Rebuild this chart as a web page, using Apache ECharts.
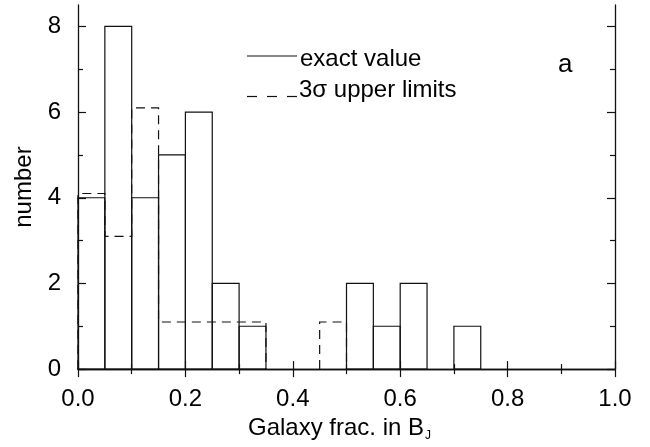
<!DOCTYPE html>
<html>
<head>
<meta charset="utf-8">
<script src="https://cdn.jsdelivr.net/npm/echarts@6/dist/echarts.min.js"></script>
<style>
  html, body { margin: 0; padding: 0; background: #fff; }
  #chart { width: 650px; height: 447px; }
</style>
</head>
<body>
<div id="chart"></div>
<script>
// Histogram bins of galaxy fraction in B_J (bin left edges, width 0.05)
const binWidth = 0.05;
const binStarts = [0.00, 0.05, 0.10, 0.15, 0.20, 0.25, 0.30, 0.35, 0.40, 0.45,
                   0.50, 0.55, 0.60, 0.65, 0.70, 0.75, 0.80, 0.85, 0.90, 0.95];
// Counts with an exact galaxy fraction
const exactCounts = [4, 8, 4, 5, 6, 2, 1, 0, 0, 0, 2, 1, 2, 0, 1, 0, 0, 0, 0, 0];
// Counts with only a 3-sigma upper limit
const upperLimitCounts = [4, 3, 6, 1, 1, 1, 1, 0, 0, 1, 0, 0, 0, 0, 0, 0, 0, 0, 0, 0];

const xTickValues = [0, 0.2, 0.4, 0.6, 0.8, 1.0];
const yTickLabels = [0, 2, 4, 6, 8];
const yMinorTicks = [1, 3, 5, 7];

// the dashed outline is lifted a little so it stays visible next to the solid one
const upperLimitLift = 0.1;

const ink = '#111';
const font = '"Liberation Sans", Arial, Helvetica, sans-serif';

// runs of consecutive non-empty upper-limit bins: [firstBin, lastBin]
const upperRuns = [];
upperLimitCounts.forEach((c, i) => {
  if (c <= 0) return;
  const last = upperRuns[upperRuns.length - 1];
  if (last && last[1] === i - 1) last[1] = i;
  else upperRuns.push([i, i]);
});

// rectangles of the exact-value histogram
const exactBars = binStarts
  .map((x, i) => [x, x + binWidth, exactCounts[i]])
  .filter(d => d[2] > 0);

const chart = echarts.init(document.getElementById('chart'), null, { renderer: 'canvas' });

const baseX = {
  type: 'value', min: 0, max: 1, interval: 0.2,
  axisLine: { show: true, lineStyle: { color: ink, width: 1.3 } },
  axisTick: { show: true, inside: true, length: 8, lineStyle: { color: ink, width: 1.2 } },
  minorTick: { show: true, splitNumber: 2, length: 5, lineStyle: { color: ink, width: 1.2 } },
  splitLine: { show: false },
  minorSplitLine: { show: false }
};

const baseY = {
  type: 'value', min: 0, max: 8.5, interval: 1,
  splitLine: { show: false },
  axisLine: { show: false },
  axisLabel: { show: false }
};

chart.setOption({
  animation: false,
  backgroundColor: '#fff',
  grid: { left: 78, right: 35, top: 5, bottom: 75, containLabel: false },
  xAxis: [
    Object.assign({}, baseX, {
      position: 'bottom',
      axisLabel: {
        show: true, color: '#000', fontSize: 24, fontFamily: font, margin: 18,
        formatter: v => (xTickValues.includes(Math.round(v * 10) / 10) ? v.toFixed(1) : '')
      },
      name: 'Galaxy frac. in B{sub|J}',
      nameLocation: 'middle',
      nameGap: 44,
      nameTextStyle: {
        color: '#000', fontSize: 24, fontFamily: font, padding: [0, 14, 0, 0],
        rich: { sub: { fontSize: 12, fontFamily: font, color: '#000', verticalAlign: 'bottom', padding: [16, 0, 0, 1] } }
      }
    }),
    Object.assign({}, baseX, { position: 'top', axisLabel: { show: false } })
  ],
  yAxis: [
    Object.assign({}, baseY, {
      position: 'left',
      axisLine: { show: true, lineStyle: { color: ink, width: 1.3 } },
      axisTick: { show: true, inside: true, length: 8, customValues: yTickLabels, lineStyle: { color: ink, width: 1.2 } },
      axisLabel: { show: true, customValues: yTickLabels, color: '#000', fontSize: 24, fontFamily: font, margin: 17 },
      name: 'number',
      nameLocation: 'middle',
      nameGap: 41,
      nameTextStyle: { color: '#000', fontSize: 24, fontFamily: font }
    }),
    Object.assign({}, baseY, {
      position: 'left',
      axisTick: { show: true, inside: true, length: 5, customValues: yMinorTicks, lineStyle: { color: ink, width: 1.2 } }
    }),
    Object.assign({}, baseY, {
      position: 'right',
      axisLine: { show: true, lineStyle: { color: ink, width: 1.3 } },
      axisTick: { show: true, inside: true, length: 8, customValues: yTickLabels, lineStyle: { color: ink, width: 1.2 } }
    }),
    Object.assign({}, baseY, {
      position: 'right',
      axisTick: { show: true, inside: true, length: 5, customValues: yMinorTicks, lineStyle: { color: ink, width: 1.2 } }
    })
  ],
  series: [
    {
      name: '3σ upper limits',
      type: 'custom',
      xAxisIndex: 0, yAxisIndex: 0,
      data: upperRuns,
      renderItem: function (params, api) {
        // step outline over one run of non-empty bins, rising from and returning to zero
        const run = upperRuns[params.dataIndex];
        const pts = [];
        pts.push(api.coord([binStarts[run[0]], 0]));
        for (let i = run[0]; i <= run[1]; i++) {
          const top = upperLimitCounts[i] + upperLimitLift;
          pts.push(api.coord([binStarts[i], top]));
          pts.push(api.coord([binStarts[i] + binWidth, top]));
        }
        pts.push(api.coord([binStarts[run[1]] + binWidth, 0]));
        return {
          type: 'polyline',
          shape: { points: pts },
          style: { fill: 'none', stroke: ink, lineWidth: 1.2, lineDash: [9, 6] }
        };
      },
      z: 2
    },
    {
      name: 'exact value',
      type: 'custom',
      xAxisIndex: 0, yAxisIndex: 0,
      data: exactBars,
      encode: { x: [0, 1], y: 2 },
      renderItem: function (params, api) {
        const p0 = api.coord([api.value(0), 0]);
        const p1 = api.coord([api.value(1), api.value(2)]);
        return {
          type: 'rect',
          shape: { x: p0[0], y: p1[1], width: p1[0] - p0[0], height: p0[1] - p1[1] },
          style: { fill: 'none', stroke: ink, lineWidth: 1.2 }
        };
      },
      z: 3
    }
  ],
  graphic: [
    { type: 'line', shape: { x1: 247, y1: 56, x2: 297, y2: 56 }, style: { stroke: ink, lineWidth: 1.2 } },
    { type: 'text', left: 300, top: 47, style: { text: 'exact value', fill: '#000', fontSize: 24, fontFamily: font } },
    { type: 'line', shape: { x1: 247, y1: 96.5, x2: 297, y2: 96.5 }, style: { stroke: ink, lineWidth: 1.2, lineDash: [10, 10] } },
    { type: 'text', left: 299, top: 78, style: { text: '3σ upper limits', fill: '#000', fontSize: 24, fontFamily: font } },
    { type: 'text', left: 558, top: 52, style: { text: 'a', fill: '#000', fontSize: 26, fontFamily: font } }
  ]
});
</script>
</body>
</html>
